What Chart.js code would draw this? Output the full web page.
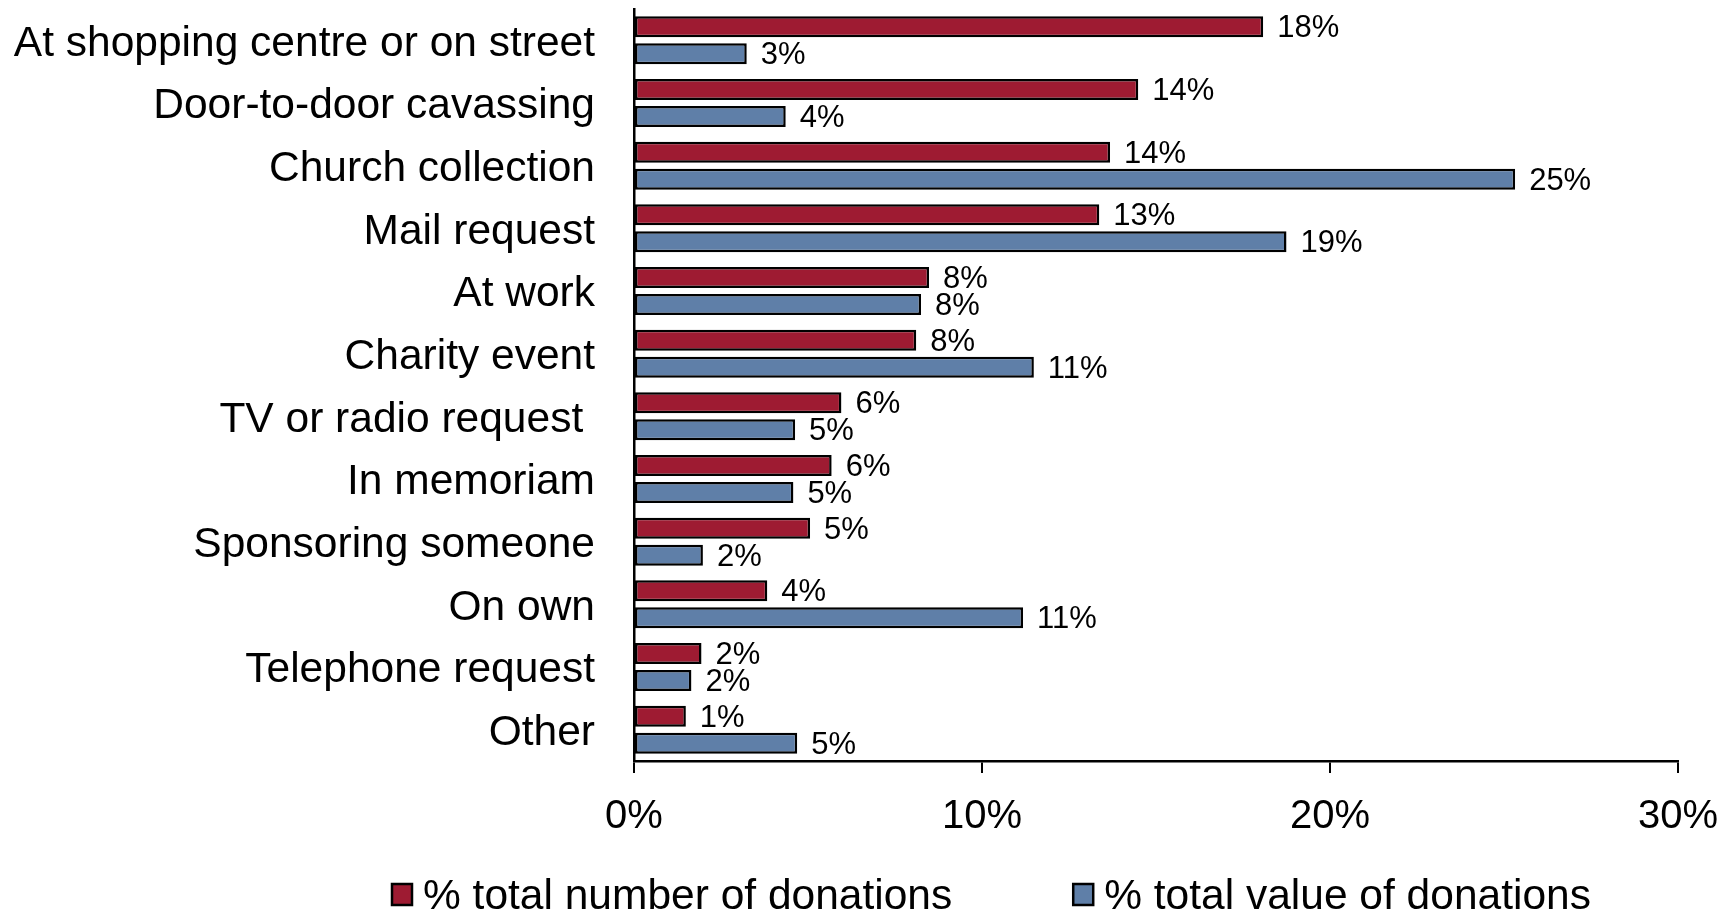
<!DOCTYPE html>
<html>
<head>
<meta charset="utf-8">
<title>How donations are made</title>
<script src="https://cdn.jsdelivr.net/npm/chart.js@4.4.1/dist/chart.umd.min.js"></script>
<style>
  html, body { margin: 0; padding: 0; background: #fff; }
  #wrap { width: 1725px; height: 911px; }
  canvas { display: block; }
</style>
</head>
<body>
<div id="wrap"><canvas id="chart" width="1725" height="911"></canvas></div>
<script>
// Method of giving
const categories = [
  'At shopping centre or on street',
  'Door-to-door cavassing',
  'Church collection',
  'Mail request',
  'At work',
  'Charity event',
  'TV or radio request ',
  'In memoriam',
  'Sponsoring someone',
  'On own',
  'Telephone request',
  'Other'
];

// Share of the number of donations (%)
const numberShare = [18.08, 14.49, 13.68, 13.37, 8.48, 8.11, 5.96, 5.68, 5.06, 3.83, 1.94, 1.49];

// Share of the value of donations (%)
const valueShare = [3.24, 4.36, 25.32, 18.75, 8.25, 11.49, 4.63, 4.58, 1.98, 11.18, 1.65, 4.69];

const seriesNames = ['% total number of donations', '% total value of donations'];

// Percentage axis
const axisMin = 0;
const axisMax = 30;
const axisStep = 10;

const FONT = '"Liberation Sans", Arial, Helvetica, sans-serif';
const RED = '#9E1B32';
const BLUE = '#5F7FA8';

// Percentage label written just past the end of each bar
const valueLabels = {
  id: 'valueLabels',
  afterDatasetsDraw(chart) {
    const ctx = chart.ctx;
    ctx.save();
    ctx.font = '31px ' + FONT;
    ctx.fillStyle = '#000';
    ctx.textAlign = 'left';
    ctx.textBaseline = 'middle';
    chart.data.datasets.forEach((ds, i) => {
      chart.getDatasetMeta(i).data.forEach((bar, j) => {
        ctx.fillText(Math.round(ds.data[j]) + '%', bar.x + 14, bar.y + 2);
      });
    });
    ctx.restore();
  }
};

// Series key along the bottom edge
const bottomKey = {
  id: 'bottomKey',
  afterDraw(chart) {
    const ctx = chart.ctx;
    ctx.save();
    ctx.font = '42.5px ' + FONT;
    ctx.textAlign = 'left';
    ctx.textBaseline = 'middle';
    let x = 392;
    const y = 884, bw = 20, bh = 21;
    chart.data.datasets.forEach(ds => {
      ctx.fillStyle = ds.backgroundColor;
      ctx.fillRect(x, y, bw, bh);
      ctx.lineWidth = 2.5;
      ctx.strokeStyle = '#000';
      ctx.strokeRect(x, y, bw, bh);
      ctx.fillStyle = '#000';
      ctx.fillText(ds.label, x + 31, y + bh / 2 + 3);
      x += 31 + ctx.measureText(ds.label).width + 121;
    });
    ctx.restore();
  }
};

new Chart(document.getElementById('chart'), {
  type: 'bar',
  data: {
    labels: categories,
    datasets: [
      {
        label: seriesNames[0],
        data: numberShare,
        backgroundColor: RED,
        borderColor: '#000',
        borderWidth: 2.5,
        borderSkipped: false
      },
      {
        label: seriesNames[1],
        data: valueShare,
        backgroundColor: BLUE,
        borderColor: '#000',
        borderWidth: 2.5,
        borderSkipped: false
      }
    ]
  },
  options: {
    indexAxis: 'y',
    responsive: false,
    animation: false,
    devicePixelRatio: 1,
    categoryPercentage: 0.862,
    barPercentage: 0.78,
    layout: { padding: { left: 0, right: 47, top: 9, bottom: 60 } },
    scales: {
      y: {
        type: 'category',
        offset: true,
        grid: { display: true, drawOnChartArea: false, drawTicks: false },
        border: { display: true, color: '#000', width: 2.5 },
        ticks: {
          color: '#000',
          font: { family: FONT, size: 42.5 },
          padding: 39,
          labelOffset: 3.5,
          autoSkip: false
        },
        afterFit(scale) {
          scale.width = 634;
          scale.paddingTop = 0;
          scale.paddingBottom = 0;
        }
      },
      x: {
        min: axisMin,
        max: axisMax,
        grid: {
          display: true,
          drawOnChartArea: false,
          drawTicks: true,
          tickLength: 12,
          color: '#000',
          lineWidth: 2
        },
        border: { display: true, color: '#000', width: 2.5 },
        ticks: {
          stepSize: axisStep,
          color: '#000',
          font: { family: FONT, size: 40 },
          padding: 20,
          maxRotation: 0,
          callback: v => v + '%'
        },
        afterFit(scale) {
          scale.height = 90;
          scale.paddingLeft = 0;
          scale.paddingRight = 0;
        }
      }
    },
    plugins: {
      legend: { display: false },
      tooltip: { enabled: false }
    }
  },
  plugins: [valueLabels, bottomKey]
});
</script>
</body>
</html>
